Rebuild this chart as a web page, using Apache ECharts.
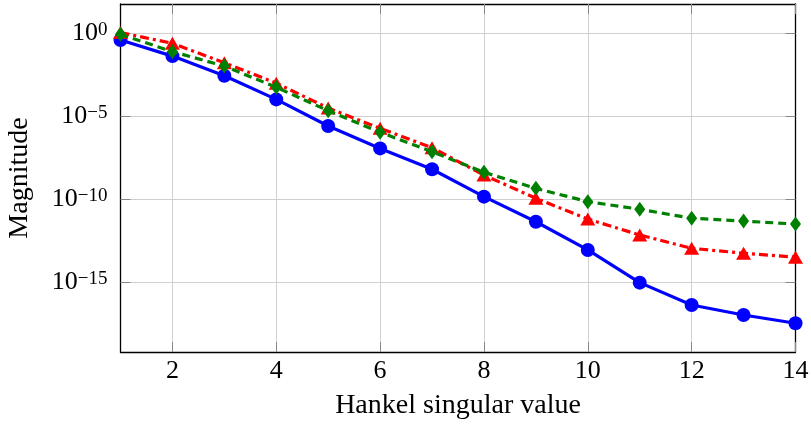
<!DOCTYPE html>
<html>
<head>
<meta charset="utf-8">
<script src="https://cdn.jsdelivr.net/npm/echarts@6/dist/echarts.min.js"></script>
<style>html,body{margin:0;padding:0;background:#fff;}#c{width:811px;height:424px;}</style>
</head>
<body>
<div id="c"></div>
<script>
const ranks = [1,2,3,4,5,6,7,8,9,10,11,12,13,14];
const xTicks = [2,4,6,8,10,12,14];
const yTicks = [1e-15,1e-10,1e-5,1];
const blueVals = [3.98e-1,4.27e-2,2.82e-3,1.05e-4,2.63e-6,1.17e-7,6.46e-9,1.45e-10,4.47e-12,8.91e-14,9.55e-16,4.27e-17,1.07e-17,3.39e-18];
const redVals = [1.12,2.51e-1,1.70e-2,1.0e-3,3.16e-5,1.91e-6,1.29e-7,2.88e-9,1.15e-10,6.46e-12,7.08e-13,1.12e-13,5.62e-14,3.24e-14];
const greenVals = [8.71e-1,7.94e-2,1.07e-2,5.62e-4,2.19e-5,1.10e-6,7.41e-8,4.27e-9,4.57e-10,7.24e-11,2.51e-11,7.24e-12,4.90e-12,3.24e-12];

const FONT = 'Liberation Serif';
const pairs = vals => ranks.map((r,i)=>[r, vals[i]]);
const yMin = Math.pow(10,-19.2), yMax = Math.pow(10,1.77);

function supLabel(v){
  const e = Math.round(Math.log10(v));
  const s = e < 0 ? '\u2212' + (-e) : String(e);
  return '{b|10}{s|' + s + '}';
}

const chart = echarts.init(document.getElementById('c'));
chart.setOption({
  animation: false,
  backgroundColor: '#fff',
  grid: {left: 120.5, right: 15.5, top: 4, bottom: 72, containLabel: false, outerBoundsMode: 'none'},
  xAxis: [{
    type: 'value', min: 1, max: 14,
    name: 'Hankel singular value', nameLocation: 'middle', nameGap: 40,
    nameTextStyle: {fontFamily: FONT, fontSize: 28, color: '#000'},
    axisLine: {show: true, onZero: false, lineStyle: {color: '#000', width: 1.3}},
    axisTick: {show: true, inside: true, length: 10, customValues: xTicks, lineStyle: {color: '#888', width: 1}},
    axisLabel: {customValues: xTicks, fontFamily: FONT, fontSize: 26, color: '#000', margin: 6},
    splitLine: {show: true, lineStyle: {color: '#d0d0d0', width: 1}}
  },{
    type: 'value', min: 1, max: 14, position: 'top',
    axisLine: {show: true, onZero: false, lineStyle: {color: '#000', width: 1.3}},
    axisTick: {show: true, inside: true, length: 10, customValues: xTicks, lineStyle: {color: '#888', width: 1}},
    axisLabel: {show: false}, splitLine: {show: false}
  }],
  yAxis: [{
    type: 'log', logBase: 10, min: yMin, max: yMax,
    name: 'Magnitude', nameLocation: 'middle', nameGap: 87, nameRotate: 90,
    nameTextStyle: {fontFamily: FONT, fontSize: 28, color: '#000'},
    axisLine: {show: true, onZero: false, lineStyle: {color: '#000', width: 1.3}},
    axisTick: {show: true, inside: true, length: 10, customValues: yTicks, lineStyle: {color: '#888', width: 1}},
    axisLabel: {customValues: yTicks, margin: 13, formatter: supLabel,
      rich: {
        b: {fontFamily: FONT, fontSize: 26, color: '#000', lineHeight: 26},
        s: {fontFamily: FONT, fontSize: 19, color: '#000', lineHeight: 18, verticalAlign: 'top'}
      }},
    splitLine: {show: true, lineStyle: {color: '#d0d0d0', width: 1}}
  },{
    type: 'log', logBase: 10, min: yMin, max: yMax, position: 'right',
    axisLine: {show: true, onZero: false, lineStyle: {color: '#000', width: 1.3}},
    axisTick: {show: true, inside: true, length: 10, customValues: yTicks, lineStyle: {color: '#888', width: 1}},
    axisLabel: {show: false}, splitLine: {show: false}
  }],
  series: [{
    type: 'line', data: pairs(blueVals), clip: false,
    symbol: 'circle', symbolSize: 14,
    lineStyle: {color: '#0000ff', width: 3.2, type: 'solid'},
    itemStyle: {color: '#0000ff'}, z: 2
  },{
    type: 'line', data: pairs(redVals), clip: false,
    symbol: 'triangle', symbolSize: [15, 13],
    lineStyle: {color: '#ff0000', width: 3.2, type: [9, 4, 3, 4]},
    itemStyle: {color: '#ff0000'}, z: 3
  },{
    type: 'line', data: pairs(greenVals), clip: false,
    symbol: 'diamond', symbolSize: [11, 15],
    lineStyle: {color: '#008000', width: 3.2, type: [8, 5]},
    itemStyle: {color: '#008000'}, z: 4
  }]
});
</script>
</body>
</html>
